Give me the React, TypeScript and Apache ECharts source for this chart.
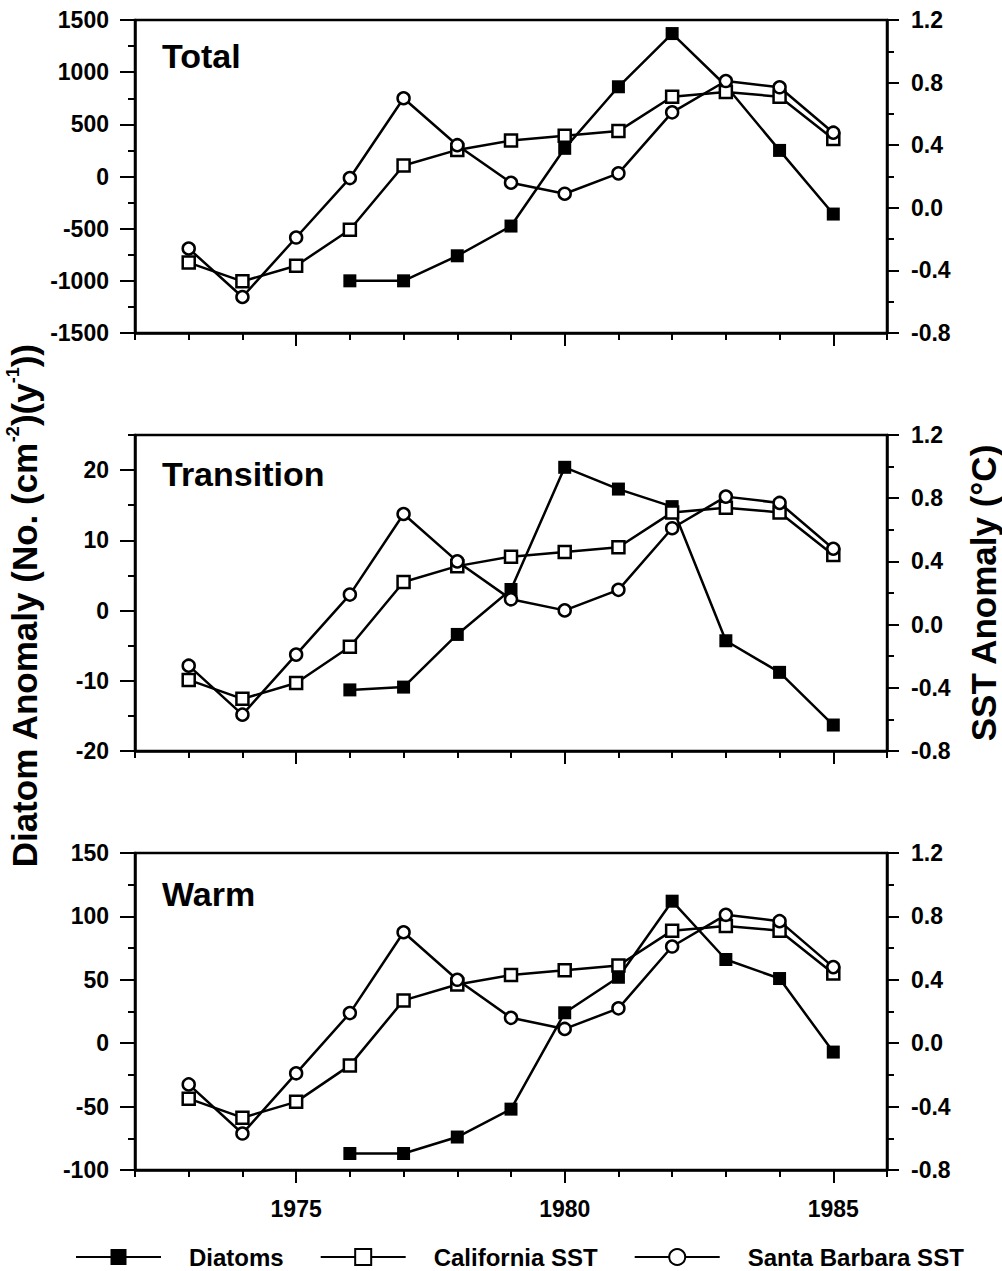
import { useEffect, useRef } from 'react';
import * as echarts from 'echarts';

// Years sampled in every panel
const years = [1973, 1974, 1975, 1976, 1977, 1978, 1979, 1980, 1981, 1982, 1983, 1984, 1985];

// Diatom flux anomalies (No. cm^-2 y^-1); no record before 1976
const totalDiatoms = [null, null, null, -1000, -1000, -760, -475, 270, 860, 1370, 870, 250, -360];
const transitionDiatoms = [null, null, null, -11.3, -10.9, -3.4, 3.0, 20.4, 17.3, 14.8, -4.3, -8.8, -16.3];
const warmDiatoms = [null, null, null, -87, -87, -74, -52, 24, 52, 112, 66, 51, -7];

// Sea surface temperature anomalies (°C)
const californiaSST = [-0.35, -0.47, -0.37, -0.14, 0.27, 0.37, 0.43, 0.46, 0.49, 0.71, 0.74, 0.71, 0.44];
const santaBarbaraSST = [-0.26, -0.57, -0.19, 0.19, 0.70, 0.40, 0.16, 0.09, 0.22, 0.61, 0.81, 0.77, 0.48];

// Panels
const panelNames = ['Total', 'Transition', 'Warm'];
const panelDiatoms = [totalDiatoms, transitionDiatoms, warmDiatoms];
const leftMin = [-1500, -20, -100];
const leftMax = [1500, 25, 150];
const leftMajorTicks = [
  [-1500, -1000, -500, 0, 500, 1000, 1500],
  [-20, -10, 0, 10, 20],
  [-100, -50, 0, 50, 100, 150],
];
const leftMinorTicks = [
  [-1250, -750, -250, 250, 750, 1250],
  [-15, -5, 5, 15, 25],
  [-75, -25, 25, 75, 125],
];
const sstMin = -0.8;
const sstMax = 1.2;
const sstMajorTicks = [-0.8, -0.4, 0, 0.4, 0.8, 1.2];
const sstMinorTicks = [-0.6, -0.2, 0.2, 0.6, 1.0];
const yearMin = 1972;
const yearMax = 1986;
const yearMajorTicks = [1975, 1980, 1985];
const legendNames = ['Diatoms', 'California SST', 'Santa Barbara SST'];

const FONT = "'Liberation Sans', Arial, Helvetica, sans-serif";
const INK = '#000';
const STROKE = 2.5;

const gridTops = [20, 435, 853];
const gridHeights = [313, 316, 317];

function pairs(values: (number | null)[]) {
  const out: [number, number][] = [];
  values.forEach((v, i) => {
    if (v !== null) out.push([years[i], v]);
  });
  return out;
}

function buildOption() {
  const grid: any[] = [];
  const xAxis: any[] = [];
  const yAxis: any[] = [];
  const series: any[] = [];
  const graphic: any[] = [];

  const tickLabel = { fontFamily: FONT, fontWeight: 'bold', fontSize: 23, color: INK };
  const axisLine = { show: true, onZero: false, lineStyle: { color: INK, width: STROKE } };
  const tickLine = { color: INK, width: 2 };

  panelNames.forEach((name, i) => {
    grid.push({
      left: 135,
      right: 115,
      top: gridTops[i],
      height: gridHeights[i],
      show: true,
      borderColor: INK,
      borderWidth: STROKE,
      backgroundColor: 'transparent',
    });

    // yearly ticks with the axis line
    xAxis.push({
      type: 'value', gridIndex: i, position: 'bottom', min: yearMin, max: yearMax, interval: 1,
      axisLine, splitLine: { show: false },
      axisTick: { show: true, length: 7, lineStyle: tickLine },
      axisLabel: { show: false },
    });
    // longer ticks every five years, labelled in the lowest panel
    xAxis.push({
      type: 'value', gridIndex: i, position: 'bottom', min: yearMin, max: yearMax,
      axisLine: { show: false, onZero: false }, splitLine: { show: false },
      axisTick: { show: true, length: 13, customValues: yearMajorTicks, lineStyle: tickLine },
      axisLabel: {
        show: i === 2, customValues: yearMajorTicks, margin: 27, ...tickLabel,
        formatter: (v: number) => String(v),
      },
    });

    // left: diatoms
    yAxis.push({
      type: 'value', gridIndex: i, position: 'left', min: leftMin[i], max: leftMax[i],
      axisLine, splitLine: { show: false },
      axisTick: { show: true, length: 15, customValues: leftMajorTicks[i], lineStyle: tickLine },
      axisLabel: { customValues: leftMajorTicks[i], margin: 26, ...tickLabel, formatter: (v: number) => String(v) },
    });
    yAxis.push({
      type: 'value', gridIndex: i, position: 'left', min: leftMin[i], max: leftMax[i],
      axisLine: { show: false, onZero: false }, splitLine: { show: false },
      axisTick: { show: true, length: 7, customValues: leftMinorTicks[i], lineStyle: tickLine },
      axisLabel: { show: false },
    });
    // right: SST
    yAxis.push({
      type: 'value', gridIndex: i, position: 'right', min: sstMin, max: sstMax,
      axisLine, splitLine: { show: false },
      axisTick: { show: true, length: 12, customValues: sstMajorTicks, lineStyle: tickLine },
      axisLabel: { customValues: sstMajorTicks, margin: 24, ...tickLabel, formatter: (v: number) => v.toFixed(1) },
    });
    yAxis.push({
      type: 'value', gridIndex: i, position: 'right', min: sstMin, max: sstMax,
      axisLine: { show: false, onZero: false }, splitLine: { show: false },
      axisTick: { show: true, length: 7, customValues: sstMinorTicks, lineStyle: tickLine },
      axisLabel: { show: false },
    });

    series.push({
      name: legendNames[0], type: 'line', xAxisIndex: 2 * i, yAxisIndex: 4 * i,
      data: pairs(panelDiatoms[i]), symbol: 'rect', symbolSize: 13, z: 3,
      lineStyle: { color: INK, width: STROKE },
      itemStyle: { color: INK, borderColor: INK, borderWidth: 0 },
    });
    series.push({
      name: legendNames[1], type: 'line', xAxisIndex: 2 * i, yAxisIndex: 4 * i + 2,
      data: pairs(californiaSST), symbol: 'rect', symbolSize: 12, z: 4,
      lineStyle: { color: INK, width: STROKE },
      itemStyle: { color: '#fff', borderColor: INK, borderWidth: 2.5 },
    });
    series.push({
      name: legendNames[2], type: 'line', xAxisIndex: 2 * i, yAxisIndex: 4 * i + 2,
      data: pairs(santaBarbaraSST), symbol: 'circle', symbolSize: 12, z: 5,
      lineStyle: { color: INK, width: STROKE },
      itemStyle: { color: '#fff', borderColor: INK, borderWidth: 2.5 },
    });

    graphic.push({
      type: 'text', x: 162, y: [56, 474, 894][i],
      style: {
        text: name, fontFamily: FONT, fontWeight: 'bold', fontSize: 34, fill: INK,
        textAlign: 'left', textVerticalAlign: 'middle',
      },
    });
  });

  // axis titles
  graphic.push({
    type: 'text', x: 24, y: 606, rotation: Math.PI / 2,
    style: {
      text: '{a|Diatom Anomaly (No. (cm}{s|-2}{a|)(y}{s|-1}{a|))}',
      textAlign: 'center', textVerticalAlign: 'middle',
      rich: {
        a: { fontFamily: FONT, fontWeight: 'bold', fontSize: 35, fill: INK, lineHeight: 40 },
        s: { fontFamily: FONT, fontWeight: 'bold', fontSize: 18, fill: INK, verticalAlign: 'top', lineHeight: 40 },
      },
    },
  });
  graphic.push({
    type: 'text', x: 983, y: 593, rotation: Math.PI / 2,
    style: {
      text: 'SST Anomaly (°C)', fontFamily: FONT, fontWeight: 'bold', fontSize: 35, fill: INK,
      textAlign: 'center', textVerticalAlign: 'middle',
    },
  });

  return {
    animation: false,
    backgroundColor: '#fff',
    grid,
    xAxis,
    yAxis,
    series,
    graphic,
    legend: {
      data: legendNames,
      left: 70,
      top: 1240,
      itemWidth: 85,
      itemHeight: 20,
      itemGap: 36,
      textStyle: { fontFamily: FONT, fontWeight: 'bold', fontSize: 24, color: INK, padding: [0, 0, 0, 23] },
    },
  };
}

export default function App() {
  const ref = useRef<HTMLDivElement>(null);
  useEffect(() => {
    if (!ref.current) return;
    const chart = echarts.init(ref.current, undefined, { renderer: 'svg' });
    chart.setOption(buildOption() as any);
    return () => chart.dispose();
  }, []);
  return (
    <div
      ref={ref}
      style={{ position: 'fixed', left: 0, top: 0, width: 1002, height: 1271, background: '#fff' }}
    />
  );
}
